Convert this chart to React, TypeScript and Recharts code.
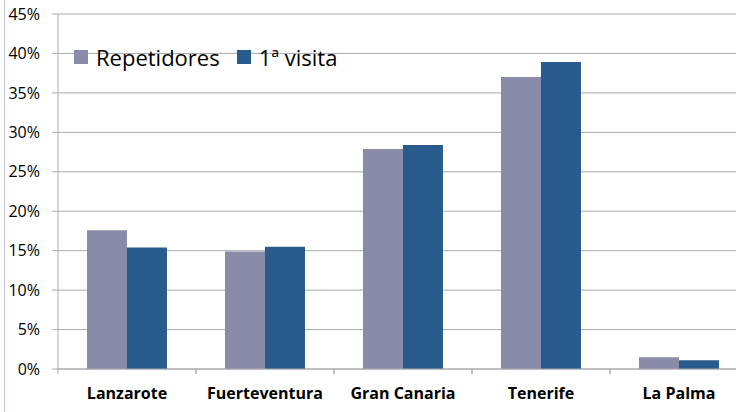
import React from 'react';
import { BarChart, Bar, XAxis, YAxis, CartesianGrid } from 'recharts';

const islands = ['Lanzarote', 'Fuerteventura', 'Gran Canaria', 'Tenerife', 'La Palma'];
const repetidores = [17.6, 14.9, 27.9, 37.0, 1.5];
const primeraVisita = [15.4, 15.5, 28.4, 38.9, 1.1];
const yTicks = [0, 5, 10, 15, 20, 25, 30, 35, 40, 45];

const series = [
  { key: 'repetidores', name: 'Repetidores', color: '#8a8aa9' },
  { key: 'primeraVisita', name: '1ª visita', color: '#295b8e' },
];

const data = islands.map((name, i) => ({
  name,
  repetidores: repetidores[i],
  primeraVisita: primeraVisita[i],
}));

const GRID = '#ababab';
const FONT = '"Open Sans", sans-serif';

// category axis: labels centred, tick marks on the band edges
const IslandTick = (props: any) => {
  const { x, y, payload } = props;
  const half = payload && payload.offset != null ? payload.offset : 69;
  const axisY = y - 18;
  return (
    <g>
      <line x1={x - half} y1={axisY} x2={x - half} y2={axisY + 5} stroke={GRID} />
      <line x1={x + half} y1={axisY} x2={x + half} y2={axisY + 5} stroke={GRID} />
      <text x={x} y={y} dy={12} textAnchor="middle" fontFamily={FONT} fontSize={16} fontWeight={700} fill="#000">
        {payload.value}
      </text>
    </g>
  );
};

// legend sits inside the plot, over the grid lines
const LegendBox = () => (
  <div
    style={{
      position: 'absolute',
      left: 74,
      top: 42,
      display: 'flex',
      alignItems: 'center',
      fontFamily: FONT,
      fontSize: 22,
      color: '#000',
      background: 'transparent',
    }}
  >
    {series.map((s) => (
      <div key={s.key} style={{ display: 'flex', alignItems: 'center', marginRight: 17 }}>
        <span style={{ width: 14, height: 14, background: s.color, display: 'inline-block', marginRight: 8 }} />
        <span style={{ background: 'transparent' }}>{s.name}</span>
      </div>
    ))}
  </div>
);

export default function App() {
  return (
    <div style={{ position: 'fixed', left: 0, top: 0, width: 736, height: 412, overflow: 'hidden', background: '#fff' }}>
      <div style={{ position: 'absolute', left: 4, top: 0, width: 1, height: 412, background: '#c3c3de' }} />
      <BarChart
        width={770}
        height={412}
        data={data}
        margin={{ top: 14, right: 22, bottom: 0, left: 0 }}
        barCategoryGap="21%"
        barGap={0}
      >
        <CartesianGrid vertical={false} stroke={GRID} />
        <XAxis
          dataKey="name"
          height={43}
          stroke={GRID}
          tickLine={false}
          tickSize={5}
          tickMargin={13}
          tick={<IslandTick />}
          interval={0}
        />
        <YAxis
          width={58}
          domain={[0, 45]}
          ticks={yTicks}
          tickFormatter={(v) => `${v}%`}
          stroke={GRID}
          tickSize={6}
          tickMargin={12}
          tick={{ fill: '#000', fontSize: 16, fontFamily: FONT }}
        />
        {series.map((s) => (
          <Bar key={s.key} dataKey={s.key} name={s.name} fill={s.color} isAnimationActive={false} />
        ))}
      </BarChart>
      <LegendBox />
    </div>
  );
}
